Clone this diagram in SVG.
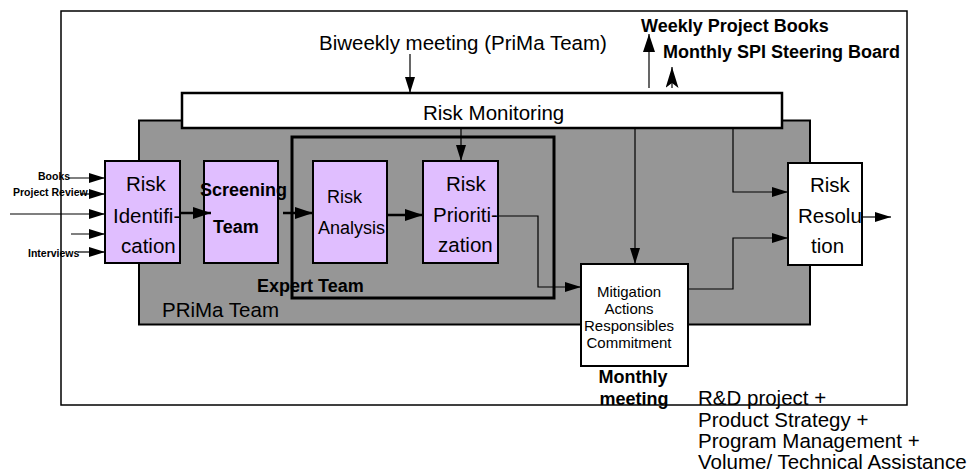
<svg xmlns="http://www.w3.org/2000/svg" width="977" height="475" viewBox="0 0 977 475">
  <style>
    text { font-family: "Liberation Sans", Arial, sans-serif; fill: #000; }
    .t20 { font-size: 20.5px; }
    .t18 { font-size: 18px; }
    .b18 { font-size: 18px; font-weight: bold; }
    .b10 { font-size: 10.5px; font-weight: bold; }
    .t15 { font-size: 15px; }
    .step { fill: #e0beff; stroke: #000; stroke-width: 2; }
    .white { fill: #fff; stroke: #000; stroke-width: 2; }
    .thin { fill: none; stroke: #000; stroke-width: 1.2; }
    .thick { fill: none; stroke: #000; stroke-width: 2.5; }
  </style>
  <defs>
    <marker id="ah" markerUnits="userSpaceOnUse" markerWidth="18" markerHeight="12" refX="18" refY="6" orient="auto">
      <path d="M0,0 L18,6 L0,12 z" fill="#000"/>
    </marker>
    <marker id="ahs" markerUnits="userSpaceOnUse" markerWidth="16" markerHeight="10" refX="16" refY="5" orient="auto">
      <path d="M0,0 L16,5 L0,10 z" fill="#000"/>
    </marker>
    <marker id="ahn" markerUnits="userSpaceOnUse" markerWidth="21" markerHeight="13" refX="21" refY="6.5" orient="auto">
      <path d="M0,0 L21,6.5 L0,13 L5,6.5 z" fill="#000"/>
    </marker>
  </defs>

  <!-- outer frame -->
  <rect x="61" y="11" width="846" height="394" fill="#fff" stroke="#000" stroke-width="1.5"/>

  <!-- PRiMa team area -->
  <g id="prima-team">
    <rect x="139" y="120.5" width="671" height="204" fill="#969696" stroke="#000" stroke-width="2"/>
    <text class="t20" x="162" y="317">PRiMa Team</text>
  </g>

  <!-- risk monitoring bar -->
  <g id="risk-monitoring">
    <rect x="182" y="93" width="600" height="35" fill="#fff" stroke="#000" stroke-width="2.5"/>
    <text class="t20" x="423" y="120">Risk Monitoring</text>
  </g>

  <!-- expert team frame -->
  <g id="expert-team">
    <rect x="292" y="137" width="262" height="161" fill="none" stroke="#000" stroke-width="3"/>
    <text class="b18" x="257" y="292">Expert Team</text>
  </g>

  <g id="risk-identification">
    <rect class="step" x="105" y="161" width="75" height="102"/>
    <text class="t20" x="126" y="191">Risk</text>
    <text class="t20" x="113" y="223">Identifi-</text>
    <text class="t20" x="121" y="253">cation</text>
  </g>

  <g id="screening-team">
    <rect class="step" x="204" y="161" width="74" height="102"/>
    <text class="b18" x="200" y="196">Screening</text>
    <text class="b18" x="213" y="233">Team</text>
  </g>

  <g id="risk-analysis">
    <rect class="step" x="313" y="161" width="74" height="102"/>
    <text class="t18" x="327" y="203">Risk</text>
    <text class="t18" x="318" y="234">Analysis</text>
  </g>

  <g id="risk-prioritization">
    <rect class="step" x="423" y="161" width="75" height="102"/>
    <text class="t20" x="446" y="191">Risk</text>
    <text class="t20" x="433" y="222">Prioriti-</text>
    <text class="t20" x="438" y="252">zation</text>
  </g>

  <g id="mitigation">
    <rect class="white" x="581" y="264" width="107" height="102"/>
    <text class="t15" text-anchor="middle" x="629" y="297">Mitigation</text>
    <text class="t15" text-anchor="middle" x="629" y="314">Actions</text>
    <text class="t15" text-anchor="middle" x="629" y="331">Responsibles</text>
    <text class="t15" text-anchor="middle" x="629" y="348">Commitment</text>
  </g>

  <g id="risk-resolution">
    <rect class="white" x="788" y="163" width="74" height="102"/>
    <text class="t20" x="810" y="192">Risk</text>
    <text class="t20" x="798" y="223">Resolu</text>
    <text class="t20" x="811" y="253">tion</text>
  </g>

  <!-- free labels -->
  <g id="labels">
    <text class="t20" x="319" y="50">Biweekly meeting (PriMa Team)</text>
    <text class="b18" x="641" y="32">Weekly Project Books</text>
    <text class="b18" x="663" y="58">Monthly SPI Steering Board</text>
    <text class="b18" text-anchor="middle" x="633" y="383">Monthly</text>
    <text class="b18" text-anchor="middle" x="634" y="405">meeting</text>
    <text class="t20" x="698" y="405">R&amp;D project +</text>
    <text class="t20" x="698" y="426.5">Product Strategy +</text>
    <text class="t20" x="698" y="448">Program Management +</text>
    <text class="t20" x="698" y="469">Volume/ Technical Assistance</text>
    <text class="b10" x="38" y="180">Books</text>
    <text class="b10" x="13" y="196">Project Review</text>
    <text class="b10" x="28" y="257">Interviews</text>
  </g>

  <!-- connectors -->
  <g id="connectors">
    <!-- inputs into identification -->
    <line class="thin" x1="68" y1="178" x2="105" y2="178" marker-end="url(#ahs)"/>
    <line class="thin" x1="80" y1="194" x2="105" y2="194" marker-end="url(#ahs)"/>
    <line class="thin" x1="10" y1="214" x2="105" y2="214" stroke-width="2.5" marker-end="url(#ahs)"/>
    <line class="thin" x1="71" y1="234" x2="105" y2="234" marker-end="url(#ahs)"/>
    <line class="thin" x1="78" y1="252" x2="105" y2="252" marker-end="url(#ahs)"/>

    <!-- main chain -->
    <line class="thick" x1="180" y1="213" x2="211" y2="213" marker-end="url(#ah)"/>
    <line class="thick" x1="283" y1="213" x2="313" y2="213" marker-end="url(#ah)"/>
    <line class="thick" x1="387" y1="215" x2="423" y2="215" marker-end="url(#ah)"/>

    <!-- prioritization to mitigation -->
    <polyline class="thin" points="498,216 538,216 538,287 581,287" marker-end="url(#ahs)"/>

    <!-- monitoring feeds -->
    <line class="thin" x1="410" y1="54" x2="410" y2="93" marker-end="url(#ahs)"/>
    <line class="thin" x1="461" y1="128" x2="461" y2="161" marker-end="url(#ahs)"/>
    <line class="thin" x1="635" y1="128" x2="635" y2="264" marker-end="url(#ahs)"/>
    <polyline class="thin" points="733,128 733,192 788,192" marker-end="url(#ahs)"/>

    <!-- mitigation to resolution and out -->
    <polyline class="thin" points="688,289 733,289 733,238 788,238" marker-end="url(#ahs)"/>
    <line class="thin" x1="862" y1="217" x2="891" y2="217" marker-end="url(#ahs)"/>

    <!-- reporting upward -->
    <line class="thin" x1="649" y1="88" x2="649" y2="34" stroke-width="2.5" marker-end="url(#ah)"/>
    <line class="thin" x1="672" y1="88" x2="672" y2="67" stroke-width="1.5" marker-end="url(#ahn)"/>
  </g>
</svg>
